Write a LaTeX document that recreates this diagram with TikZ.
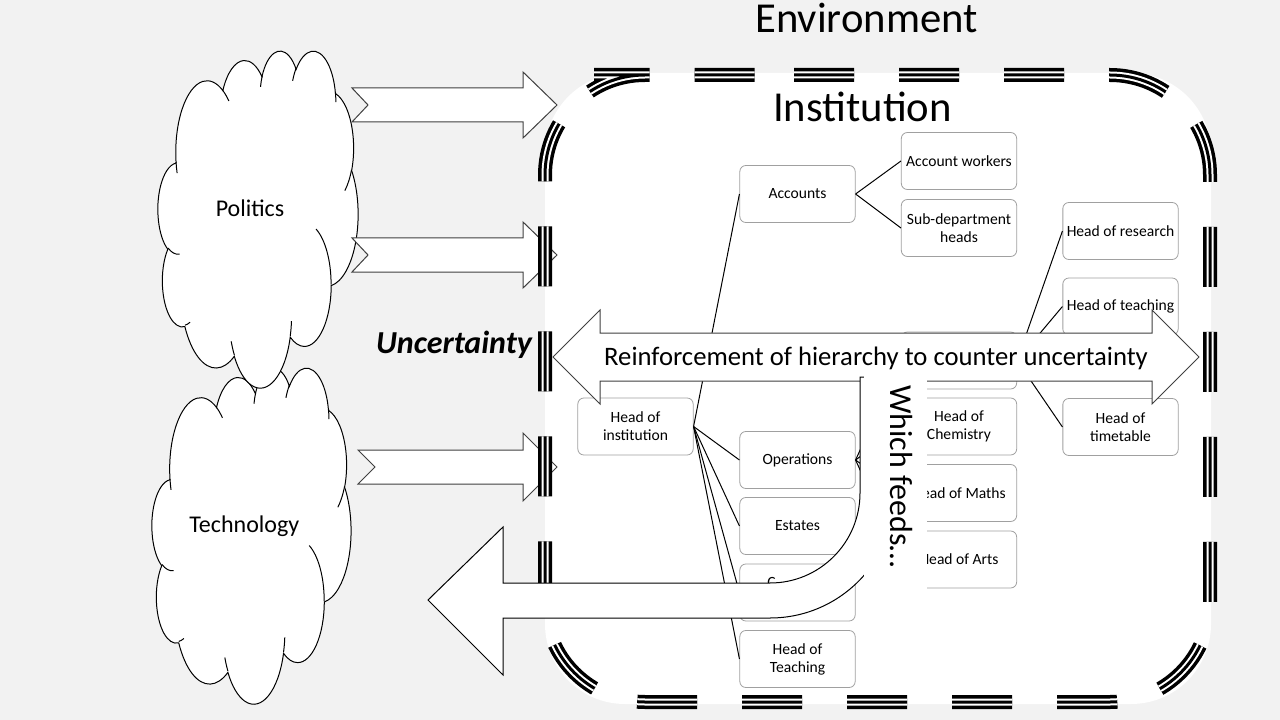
\documentclass[tikz,border=0pt]{standalone}
\usepackage{fontspec}
\setmainfont{Carlito}
\definecolor{bggray}{HTML}{F2F2F2}
\definecolor{boxgray}{HTML}{A0A0A0}
\definecolor{arrowgray}{HTML}{404040}
\begin{document}
\begin{tikzpicture}[x=0.75pt,y=-0.75pt,
  orgbox/.style={draw=boxgray, fill=white, rounded corners=4.5pt, line width=0.6pt, minimum width=86.5pt, minimum height=42.75pt, inner sep=0pt, align=center, font=\fontsize{11.7}{13.5}\selectfont},
  link/.style={draw=black, line width=0.75pt},
  blockarrow/.style={draw=arrowgray, fill=white, line width=0.75pt, line join=miter},
  cloudline/.style={draw=black, fill=white, line width=0.75pt},
  cloudinner/.style={draw=black, line width=0.75pt},
  envdash/.style={dash pattern=on 45pt off 33.75pt, rounded corners=75pt},
  bigtext/.style={font=\fontsize{32}{38}\selectfont, inner sep=0pt},
  labeltext/.style={font=\fontsize{18}{22}\selectfont, inner sep=0pt, anchor=base},
]
% background
\fill[bggray] (0,0) rectangle (1280,720);
\useasboundingbox (0,0) rectangle (1280,720);

% institution area
\fill[white, rounded corners=60pt] (545,73) rectangle (1211,704);
\node[bigtext, anchor=base] (envtext) at (866.5,33) {Environment};
\node[bigtext, anchor=base] (insttext) at (862.5,122) {Institution};

% clouds (PowerPoint cloud outline, path units 4320 x 4320)
\begin{scope}[shift={(152,367)}, x=0.034549pt, y=-0.058333pt]
\path[cloudline] (390,1437)
  arc[start angle=-187.747, end angle=-59.637, x radius=675.3, y radius=919.0]
  arc[start angle=-152.023, end angle=-45.456, x radius=533.3, y radius=726.7]
  arc[start angle=-153.489, end angle=-37.322, x radius=436.5, y radius=594.5]
  arc[start angle=-139.713, end angle=-10.209, x radius=485.7, y radius=659.5]
  arc[start angle=-74.767, end angle=23.206, x radius=533.3, y radius=727.3]
  arc[start angle=-37.525, end angle=81.862, x radius=677.5, y radius=922.0]
  arc[start angle=0.460, end angle=121.981, x radius=578.5, y radius=786.7]
  arc[start angle=16.845, end angle=146.240, x radius=675.2, y radius=921.5]
  arc[start angle=58.990, end angle=150.186, x radius=772.0, y radius=1054.3]
  arc[start angle=-276.694, end angle=-136.895, x radius=436.0, y radius=591.8]
  arc[start angle=-239.646, end angle=-95.887, x radius=434.5, y radius=594.5]
  -- cycle;
\path[cloudinner]
  (469.3,2617.7) arc[start angle=85.546, end angle=120.354, x radius=434.5, y radius=594.5]
  (692.8,3489.9) arc[start angle=68.237, end angle=83.306, x radius=436.0, y radius=591.8]
  (1647.8,3909.0) arc[start angle=146.240, end angle=158.474, x radius=675.2, y radius=921.5]
  (2882.7,3475.1) arc[start angle=4.738, end angle=16.845, x radius=675.2, y radius=921.5]
  (3412.9,2295.4) arc[start angle=-64.029, end angle=0.460, x radius=578.5, y radius=786.7]
  (4179.8,1535.4) arc[start angle=23.206, end angle=49.640, x radius=533.3, y radius=727.3]
  (3832.4,542.6) arc[start angle=-10.209, end angle=0.815, x radius=485.7, y radius=659.5]
  (2907.8,395.2) arc[start angle=-156.286, end angle=-139.724, x radius=485.7, y radius=659.5]
  (2214.1,472.0) arc[start angle=-167.725, end angle=-153.482, x radius=436.5, y radius=594.5]
  (1400.0,519.2) arc[start angle=-59.637, end angle=-45.733, x radius=675.3, y radius=919.0]
  (412.7,1578.9) arc[start angle=163.193, end angle=172.253, x radius=675.3, y radius=919.0];
\end{scope}
\begin{scope}[shift={(158,50)}, x=0.034722pt, y=-0.058507pt]
\path[cloudline] (390,1437)
  arc[start angle=-187.747, end angle=-59.637, x radius=675.3, y radius=919.0]
  arc[start angle=-152.023, end angle=-45.456, x radius=533.3, y radius=726.7]
  arc[start angle=-153.489, end angle=-37.322, x radius=436.5, y radius=594.5]
  arc[start angle=-139.713, end angle=-10.209, x radius=485.7, y radius=659.5]
  arc[start angle=-74.767, end angle=23.206, x radius=533.3, y radius=727.3]
  arc[start angle=-37.525, end angle=81.862, x radius=677.5, y radius=922.0]
  arc[start angle=0.460, end angle=121.981, x radius=578.5, y radius=786.7]
  arc[start angle=16.845, end angle=146.240, x radius=675.2, y radius=921.5]
  arc[start angle=58.990, end angle=150.186, x radius=772.0, y radius=1054.3]
  arc[start angle=-276.694, end angle=-136.895, x radius=436.0, y radius=591.8]
  arc[start angle=-239.646, end angle=-95.887, x radius=434.5, y radius=594.5]
  -- cycle;
\path[cloudinner]
  (469.3,2617.7) arc[start angle=85.546, end angle=120.354, x radius=434.5, y radius=594.5]
  (692.8,3489.9) arc[start angle=68.237, end angle=83.306, x radius=436.0, y radius=591.8]
  (1647.8,3909.0) arc[start angle=146.240, end angle=158.474, x radius=675.2, y radius=921.5]
  (2882.7,3475.1) arc[start angle=4.738, end angle=16.845, x radius=675.2, y radius=921.5]
  (3412.9,2295.4) arc[start angle=-64.029, end angle=0.460, x radius=578.5, y radius=786.7]
  (4179.8,1535.4) arc[start angle=23.206, end angle=49.640, x radius=533.3, y radius=727.3]
  (3832.4,542.6) arc[start angle=-10.209, end angle=0.815, x radius=485.7, y radius=659.5]
  (2907.8,395.2) arc[start angle=-156.286, end angle=-139.724, x radius=485.7, y radius=659.5]
  (2214.1,472.0) arc[start angle=-167.725, end angle=-153.482, x radius=436.5, y radius=594.5]
  (1400.0,519.2) arc[start angle=-59.637, end angle=-45.733, x radius=675.3, y radius=919.0]
  (412.7,1578.9) arc[start angle=163.193, end angle=172.253, x radius=675.3, y radius=919.0];
\end{scope}
\node[labeltext] (poltext) at (250,216.7) {Politics};
\node[labeltext] (techtext) at (244.3,532.7) {Technology};

% notched arrows
\draw[blockarrow] (352,88) -- (523,88) -- (523,72) -- (557,105) -- (523,138) -- (523,122) -- (352,122) -- (368,105) -- cycle;
\draw[blockarrow] (352,238) -- (523,238) -- (523,222) -- (557,255) -- (523,288) -- (523,272) -- (352,272) -- (368,255) -- cycle;
\draw[blockarrow] (358,450) -- (523,450) -- (523,433) -- (557,467) -- (523,501) -- (523,484) -- (358,484) -- (375,467) -- cycle;

% environment border (triple dashed line)
\draw[envdash, line width=10.5pt, black] (694,75) -- (1210,75) -- (1210,702) -- (545,702) -- (545,75) -- cycle;
\draw[envdash, line width=5.25pt, white] (694,75) -- (1210,75) -- (1210,702) -- (545,702) -- (545,75) -- cycle;
\draw[envdash, line width=2.25pt, black] (694,75) -- (1210,75) -- (1210,702) -- (545,702) -- (545,75) -- cycle;

% org chart boxes
\node[orgbox] (hoi) at (635.5,426.5) {Head of\\institution};
\node[orgbox] (acc) at (797.5,194) {Accounts};
\node[orgbox] (ops) at (797.5,460) {Operations};
\node[orgbox] (est) at (797.5,526) {Estates};
\node[orgbox] (cbox) at (797.5,592.5) {};
\node[orgbox] (hot) at (797.5,659) {Head of\\Teaching};
\node[orgbox] (aw) at (959,161) {Account workers};
\node[orgbox] (sdh) at (959,228) {Sub-department\\heads};
\node[orgbox] (hid) at (959,360.5) {};
\node[orgbox] (chem) at (959,426.5) {Head of\\Chemistry};
\node[orgbox] (maths) at (959,493) {Head of Maths};
\node[orgbox] (arts) at (959,559.5) {Head of Arts};
\node[orgbox] (res) at (1120.5,231) {Head of research};
\node[orgbox] (teach) at (1120.5,306.5) {Head of teaching};
\node[orgbox] (tt) at (1120.5,427) {Head of\\timetable};
\node[font=\fontsize{11.7}{13.5}\selectfont, inner sep=0pt, anchor=base west] (ctext) at (767,587) {C};

% connectors
\draw[link] (hoi.east) -- (acc.west);
\draw[link] (hoi.east) -- (ops.west);
\draw[link] (hoi.east) -- (est.west);
\draw[link] (hoi.east) -- (cbox.west);
\draw[link] (hoi.east) -- (hot.west);
\draw[link] (acc.east) -- (aw.west);
\draw[link] (acc.east) -- (sdh.west);
\draw[link] (ops.east) -- (hid.west);
\draw[link] (ops.east) -- (chem.west);
\draw[link] (ops.east) -- (maths.west);
\draw[link] (ops.east) -- (arts.west);
\draw[link] (hid.east) -- (res.west);
\draw[link] (hid.east) -- (teach.west);
\draw[link] (hid.east) -- (tt.west);

% double arrow
\draw[blockarrow] (553,357) -- (600,310) -- (600,333) -- (1152,333) -- (1152,310) -- (1199,357) -- (1152,404) -- (1152,381) -- (600,381) -- (600,404) -- cycle;
\node[font=\fontsize{20}{24}\selectfont, anchor=base, inner sep=0pt] (reinforce) at (876,365) {Reinforcement of hierarchy to counter uncertainty};

% U-turn arrow
\draw[blockarrow, draw=black] (428,600) -- (503,527) -- (503,583) -- (770,583) .. controls (819.7,583) and (860,542.7) .. (860,493) -- (860,377) -- (895,377) -- (895,493) .. controls (895,562) and (839,618) .. (770,618) -- (503,618) -- (503,675) -- cycle;

% which feeds text box
\node[fill=white, inner sep=0pt, minimum width=47.25pt, minimum height=198pt] (feedsbox) at (895.5,508) {};
\node[rotate=-90, anchor=base west, inner sep=0pt, font=\fontsize{24}{28}\selectfont] (feeds) at (890,385) {Which feeds…};

% uncertainty label
\node[font=\fontsize{24}{28}\selectfont\bfseries\itshape, anchor=base, inner sep=0pt] (uncert) at (454,353.3) {Uncertainty};
\end{tikzpicture}
\end{document}
